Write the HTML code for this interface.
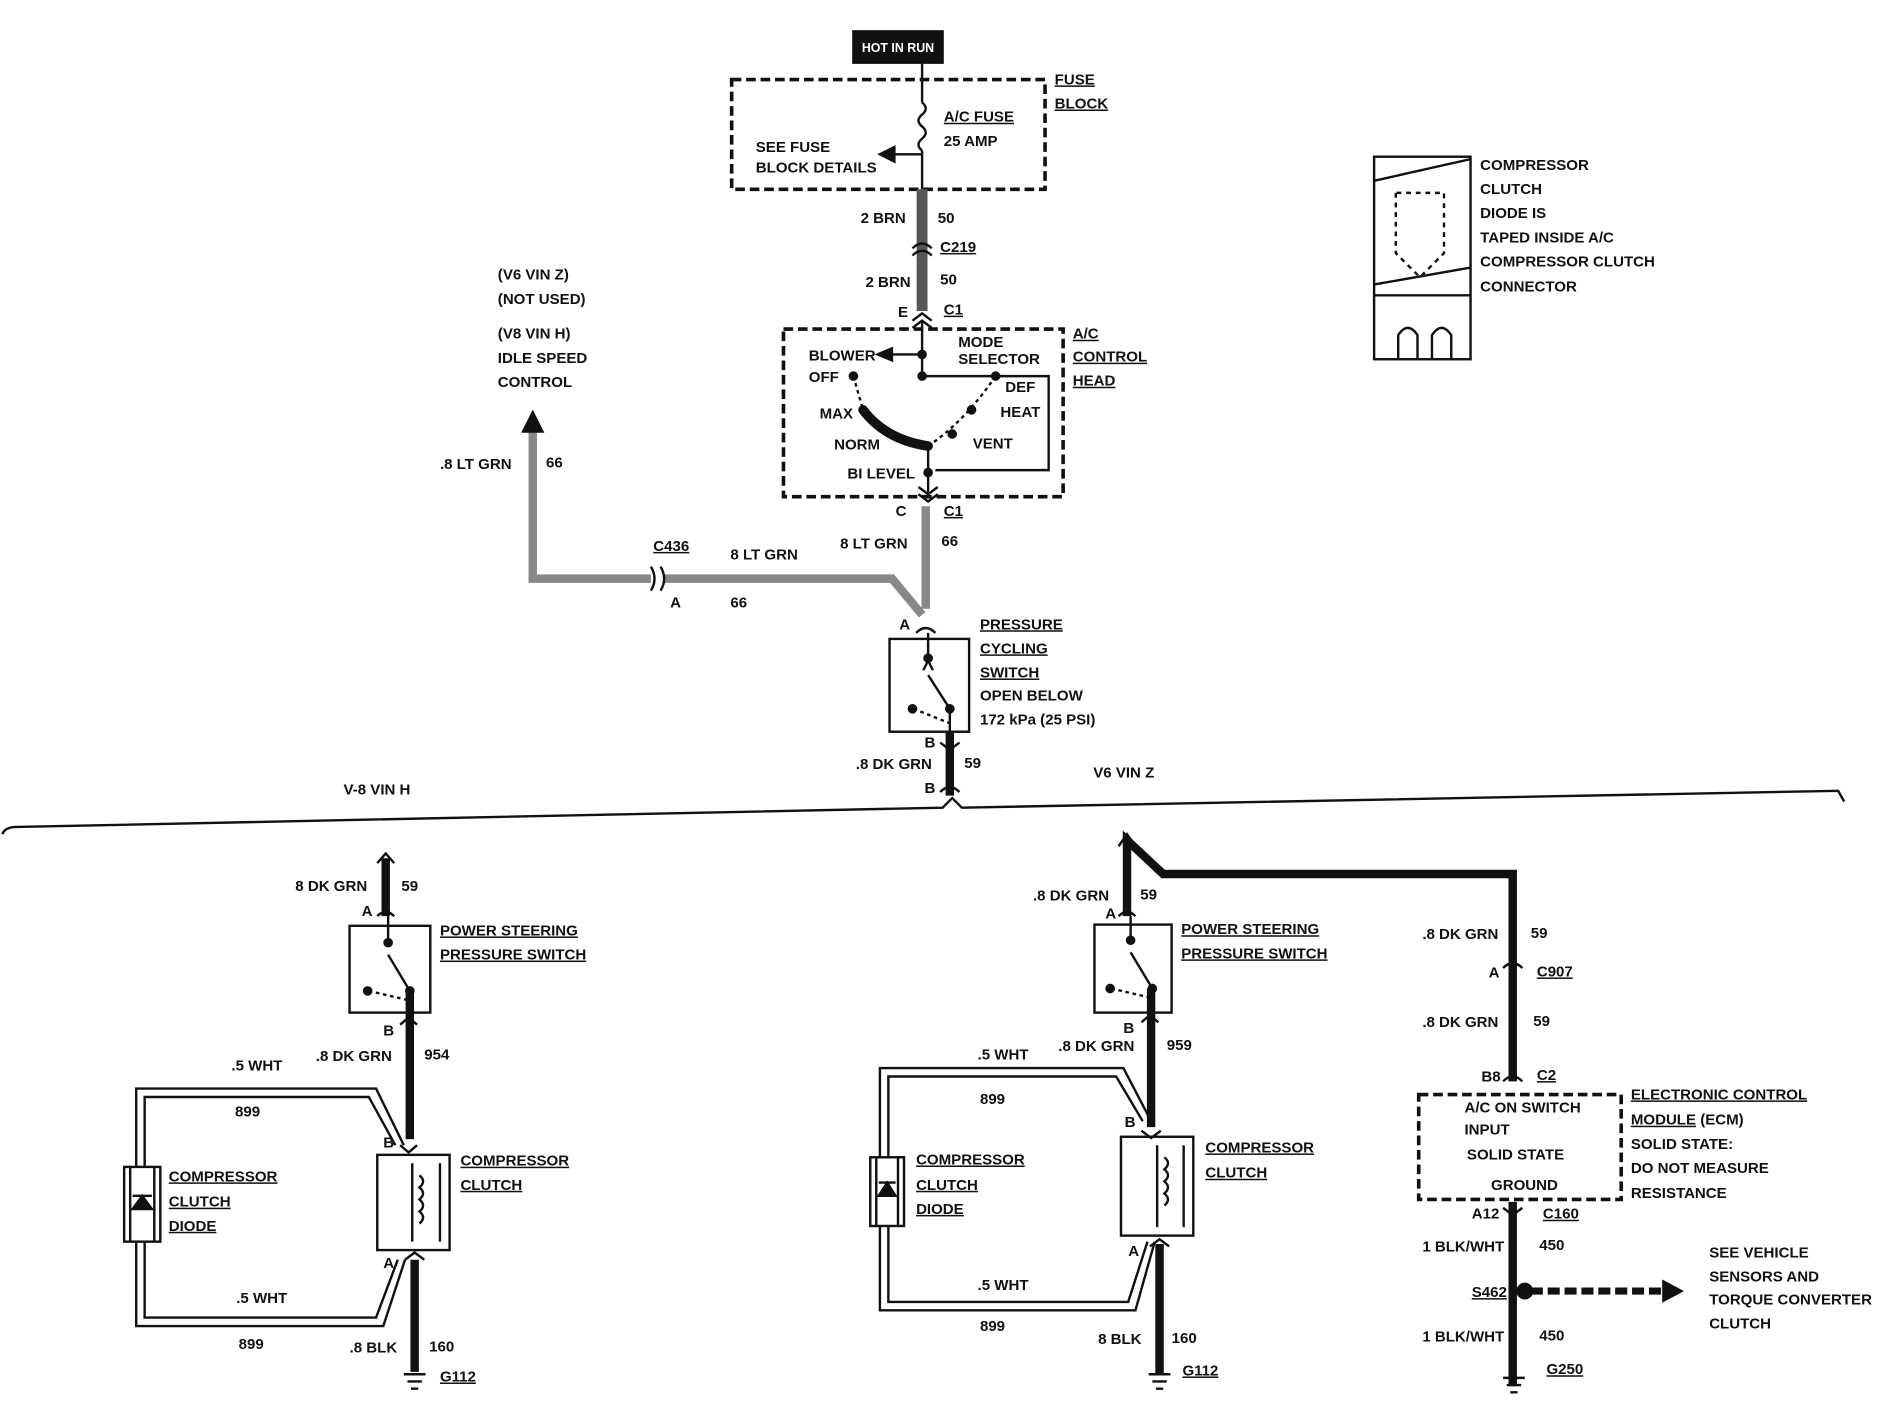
<!DOCTYPE html>
<html><head><meta charset="utf-8"><style>
html,body{margin:0;padding:0;background:#fff}
svg{display:block}
text{font-family:"Liberation Sans Narrow","Liberation Sans",sans-serif;font-weight:bold;font-size:12.5px;fill:#111}
.u{text-decoration:underline}
</style></head><body>
<svg width="1890" height="1408" viewBox="0 0 1568 1168" preserveAspectRatio="none" xmlns="http://www.w3.org/2000/svg">
<g fill="none" stroke="#111" stroke-width="2">
<rect x="708" y="26" width="74" height="26" fill="#111"/>
<rect x="607" y="66" width="260" height="91" stroke-dasharray="8,4" stroke-width="3"/>
<line x1="765" y1="52" x2="765" y2="85"/>
<path d="M765 85 q6 5 0 10 q-6 5 0 10 q6 5 0 10 q-6 5 0 10"/>
<line x1="765" y1="125" x2="765" y2="157"/>
<line x1="765" y1="128" x2="740" y2="128"/>
<path d="M742 122 L730 128 L742 134 Z" fill="#111"/>
<line x1="765" y1="157" x2="765" y2="258" stroke="#555" stroke-width="9"/>
<path d="M757 212 q8 -8 16 0 M757 206 q8 -8 16 0" stroke-width="2"/>
<path d="M757 266 l8 -6 l8 6 M757 272 l8 -6 l8 6"/>
<rect x="650" y="273" width="232" height="139" stroke-dasharray="8,4" stroke-width="3"/>
<line x1="765" y1="266" x2="765" y2="312"/>
<line x1="765" y1="294" x2="738" y2="294"/>
<path d="M740 289 L728 294 L740 299 Z" fill="#111"/>
<circle cx="765" cy="294" r="3" fill="#111"/>
<line x1="765" y1="312" x2="828" y2="312"/>
<circle cx="765" cy="312" r="3" fill="#111"/>
<polyline points="828,312 870,312 870,390 776,390"/>
<path d="M716 340 Q735 365 770 370" stroke-width="8"/>
<path d="M708 312 L716 340" stroke-dasharray="3,3"/>
<path d="M770 370 Q800 350 826 312" stroke-dasharray="3,3"/>
<circle cx="708" cy="312" r="3" fill="#111"/><circle cx="716" cy="340" r="3" fill="#111"/>
<circle cx="770" cy="370" r="3" fill="#111"/><circle cx="826" cy="312" r="3" fill="#111"/>
<circle cx="806" cy="340" r="3" fill="#111"/><circle cx="790" cy="360" r="3" fill="#111"/>
<line x1="770" y1="370" x2="770" y2="412"/>
<circle cx="770" cy="392" r="3" fill="#111"/>
<path d="M762 404 l8 6 l8 -6 M762 410 l8 6 l8 -6"/>
<line x1="768" y1="420" x2="768" y2="505" stroke="#888" stroke-width="7"/>
<path d="M442 358 L442 480 L540 480 M550 480 L740 480 L765 510" stroke="#888" stroke-width="7"/>
<path d="M434 358 L442 342 L450 358 Z" fill="#111"/>
<path d="M540 470 q6 10 0 20 M548 470 q6 10 0 20"/>
<path d="M760 525 q8 -8 16 0"/>
<rect x="738" y="530" width="66" height="77"/>
<line x1="770" y1="525" x2="770" y2="545"/><circle cx="770" cy="546" r="3" fill="#111"/>
<line x1="770" y1="560" x2="788" y2="588"/><circle cx="788" cy="588" r="3" fill="#111"/>
<path d="M770 548 l-4 8 M770 548 l4 8"/>
<path d="M758 588 L788 600" stroke-dasharray="3,3"/><circle cx="757" cy="588" r="3" fill="#111"/>
<line x1="788" y1="590" x2="788" y2="612"/>
<line x1="788" y1="608" x2="788" y2="660" stroke-width="7"/>
<path d="M780 616 l8 6 l8 -6 M780 657 q8 -8 16 0"/>
<path d="M2 692 Q4 686 14 686 L782 670 L790 662 L798 670 L1525 656 L1530 665"/>
<line x1="320" y1="712" x2="320" y2="760" stroke-width="7"/>
<path d="M313 716 L320 708 L327 716"/>
<path d="M313 760 q7 -7 14 0"/>
<rect x="290" y="768" width="67" height="72"/>
<line x1="322" y1="760" x2="322" y2="780"/><circle cx="322" cy="782" r="3" fill="#111"/>
<line x1="322" y1="792" x2="340" y2="822"/><circle cx="340" cy="822" r="3" fill="#111"/>
<path d="M306 822 L340 830" stroke-dasharray="3,3"/><circle cx="305" cy="822" r="3" fill="#111"/>
<line x1="340" y1="822" x2="340" y2="945" stroke-width="7"/>
<path d="M332 850 l7 -6 l7 6 M332 950 l7 6 l7 -6"/>
<rect x="313" y="958" width="60" height="79"/>
<line x1="342" y1="965" x2="342" y2="1030"/><line x1="365" y1="965" x2="365" y2="1030"/>
<path d="M348 975 q6 5 0 10 q6 5 0 10 q6 5 0 10 q6 5 0 10"/>
<line x1="344" y1="1045" x2="344" y2="1138" stroke-width="7"/>
<path d="M336 1045 l8 -6 l8 6"/>
<path d="M335 1140 h18 M338 1146 h12 M341 1152 h6"/>
<rect x="103" y="968" width="30" height="62"/>
<path d="M108 968 L108 1030 M128 968 L128 1030"/>
<path d="M110 1003 L126 1003 L118 992 Z" fill="#111"/><line x1="110" y1="992" x2="126" y2="992"/>
<path d="M113 968 L113 903 L312 903 L335 950 M120 968 L120 910 L306 910 L328 950" stroke-width="2"/>
<path d="M113 1030 L113 1100 L318 1100 L336 1045 M120 1030 L120 1093 L312 1093 L330 1045"/>
<path d="M935 760 L935 697 L965 725 L1255 725 L1255 897" stroke-width="7"/>
<line x1="1255" y1="997" x2="1255" y2="1150" stroke-width="7"/>
<path d="M928 702 L935 692 L942 702"/>
<path d="M928 760 q7 -7 14 0"/>
<rect x="908" y="767" width="64" height="73"/>
<line x1="938" y1="760" x2="938" y2="778"/><circle cx="938" cy="780" r="3" fill="#111"/>
<line x1="938" y1="790" x2="956" y2="820"/><circle cx="956" cy="820" r="3" fill="#111"/>
<path d="M922 820 L956 828" stroke-dasharray="3,3"/><circle cx="921" cy="820" r="3" fill="#111"/>
<line x1="955" y1="820" x2="955" y2="935" stroke-width="7"/>
<path d="M947 848 l7 -6 l7 6 M947 938 l8 6 l8 -6"/>
<rect x="930" y="943" width="60" height="82"/>
<line x1="960" y1="950" x2="960" y2="1018"/><line x1="982" y1="950" x2="982" y2="1018"/>
<path d="M966 960 q6 5 0 10 q6 5 0 10 q6 5 0 10 q6 5 0 10"/>
<line x1="962" y1="1032" x2="962" y2="1140" stroke-width="7"/>
<path d="M954 1034 l8 -6 l8 6"/>
<path d="M953 1140 h18 M956 1146 h12 M959 1152 h6"/>
<rect x="722" y="960" width="28" height="57"/>
<path d="M727 960 L727 1017 M745 960 L745 1017"/>
<path d="M729 992 L743 992 L736 981 Z" fill="#111"/><line x1="729" y1="981" x2="743" y2="981"/>
<path d="M730 960 L730 886 L932 886 L955 930 M737 960 L737 893 L926 893 L948 930"/>
<path d="M730 1017 L730 1087 L942 1087 L958 1030 M737 1017 L737 1080 L936 1080 L952 1030"/>
<path d="M1247 803 q8 -8 16 0 M1247 897 q8 -8 16 0"/>
<rect x="1177" y="908" width="168" height="87" stroke-dasharray="8,4" stroke-width="3"/>
<path d="M1247 1002 l8 6 l8 -6"/>
<circle cx="1265" cy="1071" r="6" fill="#111"/>
<line x1="1270" y1="1071" x2="1380" y2="1071" stroke-width="6" stroke-dasharray="10,4"/>
<path d="M1380 1063 L1395 1071 L1380 1079 Z" fill="#111"/>
<path d="M1247 1143 h18 M1250 1149 h12 M1253 1155 h6"/>
<rect x="1140" y="130" width="80" height="168"/>
<line x1="1140" y1="245" x2="1220" y2="245"/>
<path d="M1140 150 L1220 132 M1140 236 L1220 222"/>
<path d="M1158 160 L1158 210 L1178 230 L1198 210 L1198 160 Z" stroke-dasharray="4,4"/>
<path d="M1160 298 L1160 278 q8 -12 16 0 L1176 298 M1188 298 L1188 278 q8 -12 16 0 L1204 298"/>
</g>
<text x="715" y="43" style="fill:#fff;font-size:11px" textLength="60" lengthAdjust="spacingAndGlyphs">HOT IN RUN</text>
<text x="875" y="70" class="u">FUSE</text><text x="875" y="90" class="u">BLOCK</text>
<text x="783" y="101" class="u">A/C FUSE</text><text x="783" y="121" font-size="11">25 AMP</text>
<text x="627" y="126" font-size="11">SEE FUSE</text><text x="627" y="143" font-size="11">BLOCK DETAILS</text>
<text x="714" y="185">2 BRN</text><text x="778" y="185">50</text>
<text x="780" y="209" class="u">C219</text>
<text x="718" y="238">2 BRN</text><text x="780" y="236">50</text>
<text x="745" y="263">E</text><text x="783" y="261" class="u">C1</text>
<text x="890" y="281" class="u">A/C</text><text x="890" y="300" class="u">CONTROL</text><text x="890" y="320" class="u">HEAD</text>
<text x="671" y="299" font-size="11">BLOWER</text><text x="671" y="317" font-size="11">OFF</text>
<text x="795" y="288" font-size="11">MODE</text><text x="795" y="302" font-size="11">SELECTOR</text>
<text x="834" y="325" font-size="11">DEF</text><text x="830" y="346" font-size="11">HEAT</text>
<text x="680" y="347" font-size="11">MAX</text><text x="692" y="373" font-size="11">NORM</text>
<text x="807" y="372" font-size="11">VENT</text><text x="703" y="397" font-size="11">BI LEVEL</text>
<text x="743" y="428">C</text><text x="783" y="428" class="u">C1</text>
<text x="413" y="232">(V6 VIN Z)</text><text x="413" y="252">(NOT USED)</text>
<text x="413" y="281">(V8 VIN H)</text><text x="413" y="301">IDLE SPEED</text><text x="413" y="321">CONTROL</text>
<text x="365" y="389">.8 LT GRN</text><text x="453" y="388">66</text>
<text x="542" y="457" class="u">C436</text><text x="606" y="464">8 LT GRN</text>
<text x="556" y="504">A</text><text x="606" y="504">66</text>
<text x="697" y="455">8 LT GRN</text><text x="781" y="453">66</text>
<text x="746" y="522">A</text>
<text x="813" y="522" class="u">PRESSURE</text><text x="813" y="542" class="u">CYCLING</text><text x="813" y="562" class="u">SWITCH</text>
<text x="813" y="581">OPEN BELOW</text><text x="813" y="601" font-size="11.5">172 kPa (25 PSI)</text>
<text x="767" y="620">B</text>
<text x="710" y="638">.8 DK GRN</text><text x="800" y="637">59</text>
<text x="767" y="658">B</text>
<text x="285" y="659">V-8 VIN H</text><text x="907" y="645">V6 VIN Z</text>
<text x="1228" y="141">COMPRESSOR</text><text x="1228" y="161">CLUTCH</text><text x="1228" y="181">DIODE IS</text>
<text x="1228" y="201">TAPED INSIDE A/C</text><text x="1228" y="221">COMPRESSOR CLUTCH</text><text x="1228" y="242">CONNECTOR</text>
<text x="245" y="739">8 DK GRN</text><text x="333" y="739">59</text><text x="300" y="760">A</text>
<text x="365" y="776" class="u">POWER STEERING</text><text x="365" y="796" class="u">PRESSURE SWITCH</text>
<text x="318" y="859">B</text><text x="262" y="880">.8 DK GRN</text><text x="352" y="879">954</text>
<text x="192" y="888">.5 WHT</text><text x="195" y="926">899</text>
<text x="318" y="952">B</text>
<text x="382" y="967" class="u">COMPRESSOR</text><text x="382" y="987" class="u">CLUTCH</text>
<text x="140" y="980" class="u">COMPRESSOR</text><text x="140" y="1001" class="u">CLUTCH</text><text x="140" y="1021" class="u">DIODE</text>
<text x="318" y="1052">A</text>
<text x="196" y="1081">.5 WHT</text><text x="198" y="1119">899</text>
<text x="290" y="1122">.8 BLK</text><text x="356" y="1121">160</text>
<text x="365" y="1146" class="u">G112</text>
<text x="857" y="747">.8 DK GRN</text><text x="946" y="746">59</text><text x="917" y="762">A</text>
<text x="980" y="775" class="u">POWER STEERING</text><text x="980" y="795" class="u">PRESSURE SWITCH</text>
<text x="932" y="857">B</text><text x="878" y="872">.8 DK GRN</text><text x="968" y="871">959</text>
<text x="811" y="879">.5 WHT</text><text x="813" y="916">899</text>
<text x="933" y="935">B</text>
<text x="1000" y="956" class="u">COMPRESSOR</text><text x="1000" y="977" class="u">CLUTCH</text>
<text x="760" y="966" class="u">COMPRESSOR</text><text x="760" y="987" class="u">CLUTCH</text><text x="760" y="1007" class="u">DIODE</text>
<text x="936" y="1042">A</text>
<text x="811" y="1070">.5 WHT</text><text x="813" y="1104">899</text>
<text x="911" y="1115">8 BLK</text><text x="972" y="1114">160</text>
<text x="981" y="1141" class="u">G112</text>
<text x="1180" y="779">.8 DK GRN</text><text x="1270" y="778">59</text>
<text x="1235" y="811">A</text><text x="1275" y="810" class="u">C907</text>
<text x="1180" y="852">.8 DK GRN</text><text x="1272" y="851">59</text>
<text x="1229" y="897">B8</text><text x="1275" y="896" class="u">C2</text>
<text x="1215" y="923" font-size="11">A/C ON SWITCH</text><text x="1215" y="941" font-size="11">INPUT</text>
<text x="1217" y="962">SOLID STATE</text><text x="1237" y="987" font-size="11">GROUND</text>
<text x="1353" y="912" class="u">ELECTRONIC CONTROL</text><text x="1353" y="933"><tspan class="u">MODULE</tspan> (ECM)</text>
<text x="1353" y="953">SOLID STATE:</text><text x="1353" y="973">DO NOT MEASURE</text><text x="1353" y="994">RESISTANCE</text>
<text x="1221" y="1011">A12</text><text x="1280" y="1011" class="u">C160</text>
<text x="1180" y="1038">1 BLK/WHT</text><text x="1277" y="1037">450</text>
<text x="1221" y="1076" class="u">S462</text>
<text x="1418" y="1043">SEE VEHICLE</text><text x="1418" y="1063">SENSORS AND</text>
<text x="1418" y="1082">TORQUE CONVERTER</text><text x="1418" y="1102">CLUTCH</text>
<text x="1180" y="1113">1 BLK/WHT</text><text x="1277" y="1112">450</text>
<text x="1283" y="1140" class="u">G250</text>
</svg>
</body></html>
